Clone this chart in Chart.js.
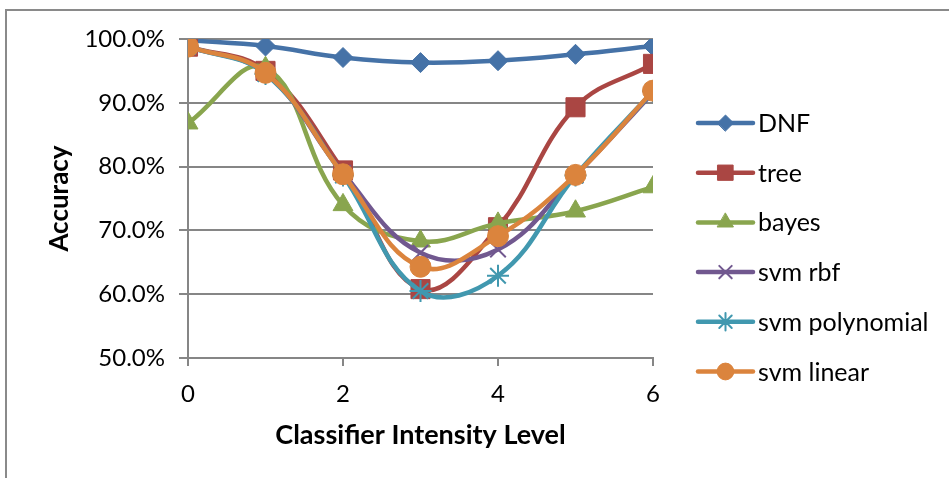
<!DOCTYPE html>
<html>
<head>
<meta charset="utf-8">
<script src="https://cdn.jsdelivr.net/npm/chart.js@4.4.1/dist/chart.umd.min.js"></script>
<style>
  html, body { margin: 0; padding: 0; background: #fff; }
  #wrap { width: 949px; height: 478px; position: relative; }
</style>
</head>
<body>
<div id="wrap"><canvas id="accChart" width="949" height="478"></canvas></div>
<script>
// intensity levels on the x axis
const levels = [0, 1, 2, 3, 4, 5, 6];

// accuracy per classifier (%)
const dnf       = [99.8, 98.9, 97.1, 96.3, 96.6, 97.6, 98.9];
const tree      = [98.8, 95.0, 79.4, 60.8, 70.5, 89.3, 96.1];
const bayes     = [86.8, 95.5, 74.0, 68.3, 71.1, 73.0, 76.8];
const svmRbf    = [98.8, 94.6, 79.0, 66.5, 67.0, 78.6, 91.6];
const svmPoly   = [98.8, 94.5, 78.6, 60.5, 62.9, 78.6, 91.8];
const svmLinear = [98.8, 94.7, 78.8, 64.3, 69.1, 78.7, 91.9];

const seriesNames = ['DNF', 'tree', 'bayes', 'svm rbf', 'svm polynomial', 'svm linear'];
const seriesValues = [dnf, tree, bayes, svmRbf, svmPoly, svmLinear];

const colors = ['#4572A7', '#AA4643', '#89A54E', '#71588F', '#4198AF', '#DB843D'];
const markers = ['rectRot', 'rect', 'triangle', 'crossRot', 'star', 'circle'];
const markerSize = [10, 13.5, 11.5, 11, 11, 10.5];

const FONT = 'Lato, "Open Sans", sans-serif';
const GRID = '#868686';

const datasets = seriesValues.map((vals, i) => {
  const open = markers[i] === 'crossRot' || markers[i] === 'star';
  return {
    label: seriesNames[i],
    data: levels.map((x, k) => ({ x: x, y: vals[k] })),
    borderColor: colors[i],
    backgroundColor: colors[i],
    borderWidth: 4.5,
    tension: 0.4,
    pointStyle: markers[i],
    pointRadius: markerSize[i],
    pointHoverRadius: markerSize[i],
    pointBackgroundColor: colors[i],
    pointBorderColor: colors[i],
    pointBorderWidth: open ? 2 : 1,
    order: seriesValues.length - i
  };
});

// gray frame on the top and left edge
const framePlugin = {
  id: 'frame',
  beforeDraw(chart) {
    const ctx = chart.ctx;
    ctx.save();
    ctx.fillStyle = '#fff';
    ctx.fillRect(0, 0, chart.width, chart.height);
    ctx.strokeStyle = '#8a8a8a';
    ctx.lineWidth = 2;
    ctx.beginPath();
    ctx.moveTo(6, chart.height);
    ctx.lineTo(6, 10);
    ctx.lineTo(chart.width, 10);
    ctx.stroke();
    ctx.restore();
  }
};

// legend with line + marker samples
const lineLegend = {
  id: 'lineLegend',
  afterDraw(chart) {
    const ctx = chart.ctx;
    const x0 = 698, x1 = 753, textX = 758;
    const top = 123, step = 49.7;
    ctx.save();
    chart.data.datasets.forEach((ds, i) => {
      const y = top + i * step;
      ctx.strokeStyle = ds.borderColor;
      ctx.lineWidth = 4.5;
      ctx.lineCap = 'round';
      ctx.beginPath();
      ctx.moveTo(x0, y);
      ctx.lineTo(x1, y);
      ctx.stroke();
      ctx.fillStyle = ds.pointBackgroundColor;
      ctx.strokeStyle = ds.pointBorderColor;
      ctx.lineWidth = ds.pointBorderWidth;
      Chart.helpers.drawPoint(ctx, {
        pointStyle: ds.pointStyle,
        radius: ds.pointRadius * 0.8,
        rotation: 0,
        borderWidth: ds.pointBorderWidth
      }, (x0 + x1) / 2, y);
      ctx.fillStyle = '#000';
      ctx.font = '25px ' + FONT;
      ctx.textBaseline = 'middle';
      ctx.textAlign = 'left';
      ctx.fillText(ds.label, textX, y + 1);
    });
    ctx.restore();
  }
};

new Chart(document.getElementById('accChart'), {
  type: 'line',
  data: { datasets: datasets },
  options: {
    responsive: false,
    animation: false,
    events: [],
    layout: { padding: { left: 0, top: 39, right: 296, bottom: 0 } },
    plugins: { legend: { display: false }, tooltip: { enabled: false } },
    scales: {
      x: {
        type: 'linear',
        min: 0,
        max: 6,
        afterFit: (s) => { s.height = 120; },
        ticks: {
          stepSize: 2,
          color: '#000',
          padding: 14,
          font: { family: FONT, size: 24 }
        },
        grid: { drawOnChartArea: false, drawTicks: true, tickLength: 8, color: GRID, lineWidth: 2 },
        border: { color: GRID, width: 2 },
        title: {
          display: true,
          text: 'Classifier Intensity Level',
          color: '#000',
          font: { family: FONT, size: 27, weight: 'bold' },
          padding: { top: 0, bottom: 27 }
        }
      },
      y: {
        min: 50,
        max: 100,
        afterFit: (s) => { s.width = 188; },
        ticks: {
          stepSize: 10,
          color: '#000',
          padding: 14,
          font: { family: FONT, size: 24 },
          callback: (v) => v.toFixed(1) + '%'
        },
        grid: { color: GRID, lineWidth: 2, tickLength: 9 },
        border: { color: GRID, width: 2 },
        title: {
          display: true,
          text: 'Accuracy',
          color: '#000',
          font: { family: FONT, size: 26, weight: 'bold' },
          padding: { top: 44, bottom: 0 }
        }
      }
    }
  },
  plugins: [framePlugin, lineLegend]
});
</script>
</body>
</html>
